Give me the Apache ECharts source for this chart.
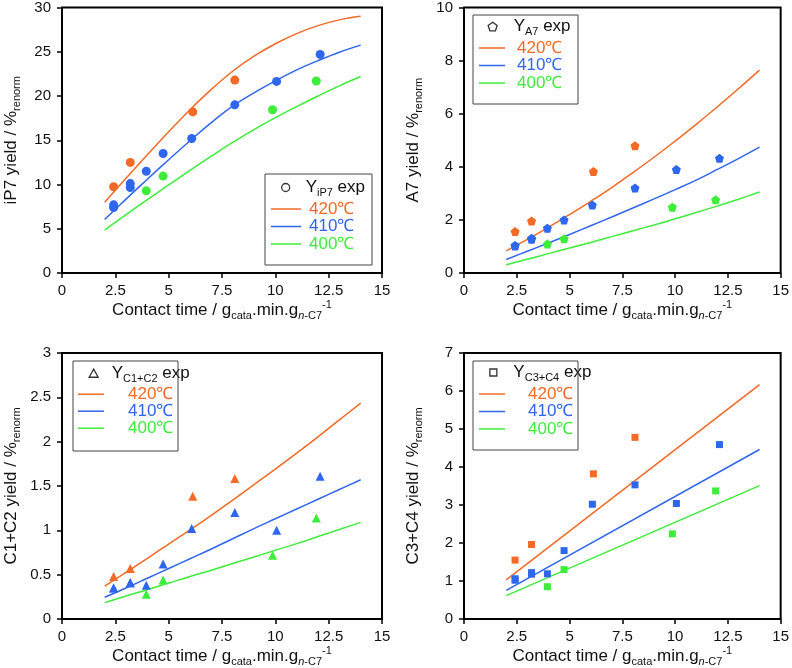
<!DOCTYPE html>
<html>
<head>
<meta charset="utf-8">
<script src="https://cdn.jsdelivr.net/npm/echarts@6/dist/echarts.min.js"></script>
<style>html,body{margin:0;padding:0;background:#fff;}#c{width:792px;height:668px;}</style>
</head>
<body>
<div id="c"></div>
<script>
// ---------- data ----------
const lineX = [2, 3, 4, 5, 6, 7, 8, 9, 10, 11, 12, 13, 14];
const lineXStraight = [2, 14];

// iP7 yield model curves
const iP7_420 = [8.0, 10.7, 13.35, 15.95, 18.45, 20.75, 22.8, 24.5, 25.9, 27.05, 27.95, 28.6, 29.0];
const iP7_410 = [6.05, 8.35, 10.6, 12.8, 14.95, 17.0, 18.85, 20.35, 21.7, 22.95, 24.0, 24.95, 25.75];
const iP7_400 = [4.85, 6.6, 8.3, 9.95, 11.6, 13.2, 14.75, 16.2, 17.55, 18.8, 20.0, 21.15, 22.2];
// A7 yield model curves
const A7_420 = [0.83, 1.27, 1.72, 2.2, 2.7, 3.22, 3.78, 4.36, 4.97, 5.6, 6.26, 6.94, 7.64];
const A7_410 = [0.51, 0.82, 1.13, 1.45, 1.78, 2.11, 2.45, 2.79, 3.14, 3.5, 3.9, 4.31, 4.74];
const A7_400 = [0.31, 0.52, 0.73, 0.94, 1.15, 1.37, 1.59, 1.81, 2.04, 2.28, 2.52, 2.78, 3.05];
// C1+C2 yield model curves
const C12_420 = [0.37, 0.527, 0.685, 0.845, 1.005, 1.17, 1.34, 1.515, 1.69, 1.87, 2.055, 2.245, 2.435];
const C12_410 = [0.245, 0.35, 0.46, 0.57, 0.68, 0.79, 0.905, 1.02, 1.13, 1.24, 1.35, 1.46, 1.57];
const C12_400 = [0.185, 0.26, 0.33, 0.405, 0.48, 0.55, 0.625, 0.70, 0.775, 0.85, 0.93, 1.01, 1.09];
// C3+C4 yield model lines (straight)
const C34_420 = [1.03, 6.17];
const C34_410 = [0.755, 4.46];
const C34_400 = [0.615, 3.51];

// experimental contact times
const expX_420 = [2.42, 3.2, 6.13, 8.1];
const expX_410 = [2.42, 2.42, 3.2, 3.2, 3.95, 4.74, 6.08, 8.1, 10.06, 12.1];
const expX_400 = [3.95, 4.74, 9.87, 11.92];

// experimental yields
const iP7exp_420 = [9.75, 12.5, 18.2, 21.8];
const iP7exp_410 = [7.4, 7.7, 9.65, 10.1, 11.5, 13.5, 15.2, 19.0, 21.65, 24.7];
const iP7exp_400 = [9.28, 10.95, 18.45, 21.7];

const A7exp_420 = [1.56, 1.96, 3.82, 4.79];
const A7exp_410 = [1.02, 1.04, 1.27, 1.31, 1.69, 2.0, 2.56, 3.2, 3.9, 4.32];
const A7exp_400 = [1.09, 1.29, 2.48, 2.76];

const C12exp_420 = [0.48, 0.57, 1.385, 1.585];
const C12exp_410 = [0.35, 0.35, 0.41, 0.41, 0.38, 0.62, 1.02, 1.2, 1.0, 1.61];
const C12exp_400 = [0.28, 0.44, 0.72, 1.14];

const C34exp_420 = [1.55, 1.96, 3.82, 4.78];
const C34exp_410 = [1.02, 1.06, 1.18, 1.22, 1.19, 1.8, 3.02, 3.53, 3.04, 4.59];
const C34exp_400 = [0.85, 1.3, 2.24, 3.37];

const xTicks = ['0', '2.5', '5', '7.5', '10', '12.5', '15'];
const tempLabels = ['420℃', '410℃', '400℃'];

// ---------- styling ----------
const C_OR = '#f26a26', C_BL = '#2f66ee', C_GR = '#3ded3a';
const FONT = '"Liberation Sans", Arial, Helvetica, sans-serif';
const pentagon = 'path://M0,-1 L0.951,-0.309 L0.588,0.809 L-0.588,0.809 L-0.951,-0.309 Z';
const triPath = 'path://M0,-1 L0.95,0.7 L-0.95,0.7 Z';
const sqPath = 'path://M-1,-1 L1,-1 L1,1 L-1,1 Z';
const circPath = 'circle';

const zip = (xs, ys) => xs.map((x, i) => [x, ys[i]]);

const panels = [
  { left: 62, top: 7, width: 320, height: 266, ymax: 30, yint: 5,
    yname: '{n|iP7 yield / %}{s|renorm}', sym: 'circle', symSize: 9,
    curves: [iP7_420, iP7_410, iP7_400], cx: lineX, smooth: true,
    exps: [iP7exp_420, iP7exp_410, iP7exp_400],
    expLabel: '{n|Y}{s|iP7}{n| exp}', legIcon: circPath, legIconH: 8, iconC: 285, yStart: 305,
    box: [265, 174, 107, 91], legLeft: 271, iconW: 30, rows: [190, 210.5, 231, 251.5], tGap: 3 },
  { left: 464, top: 7, width: 319, height: 266, ymax: 10, yint: 2,
    yname: '{n|A7 yield / %}{s|renorm}', sym: pentagon, symSize: 9,
    curves: [A7_420, A7_410, A7_400], cx: lineX, smooth: true,
    exps: [A7exp_420, A7exp_410, A7exp_400],
    expLabel: '{n|Y}{s|A7}{n| exp}', legIcon: pentagon, legIconH: 9, iconC: 492, yStart: 513,
    box: [473, 15, 105, 89], legLeft: 479, iconW: 26, rows: [29, 49.5, 70, 90.5], tGap: 7 },
  { left: 62, top: 353, width: 320, height: 266, ymax: 3, yint: 0.5,
    yname: '{n|C1+C2 yield / %}{s|renorm}', sym: 'triangle', symSize: 9,
    curves: [C12_420, C12_410, C12_400], cx: lineX, smooth: true,
    exps: [C12exp_420, C12exp_410, C12exp_400],
    expLabel: '{n|Y}{s|C1+C2}{n| exp}', legIcon: triPath, legIconH: 9, iconC: 93, yStart: 111,
    box: [73, 361, 105, 90], legLeft: 78, iconW: 26, rows: [375.7, 395.7, 415.7, 435.7], tGap: 19 },
  { left: 464, top: 353, width: 319, height: 266, ymax: 7, yint: 1,
    yname: '{n|C3+C4 yield / %}{s|renorm}', sym: 'rect', symSize: 7,
    curves: [C34_420, C34_410, C34_400], cx: lineXStraight, smooth: false,
    exps: [C34exp_420, C34exp_410, C34exp_400],
    expLabel: '{n|Y}{s|C3+C4}{n| exp}', legIcon: sqPath, legIconH: 7, iconC: 492.7, yStart: 512.7,
    box: [473, 361, 105, 89], legLeft: 479, iconW: 26, rows: [375, 395.5, 416, 436.5], tGap: 18 }
];

const nameRich = {
  n: { fontSize: 17, lineHeight: 22, fontFamily: FONT, color: '#111' },
  s: { fontSize: 11, lineHeight: 10, verticalAlign: 'bottom', fontFamily: FONT, color: '#111' },
  si: { fontSize: 11, lineHeight: 10, verticalAlign: 'bottom', fontStyle: 'italic', fontFamily: FONT, color: '#111' },
  p: { fontSize: 11, lineHeight: 10, verticalAlign: 'top', fontFamily: FONT, color: '#111' }
};
const xName = '{n|Contact time / g}{s|cata}{n|.min.g}{si|n}{s|-C7}{p|-1}';

const grid = [], xAxis = [], yAxis = [], series = [], legend = [], graphic = [];
const colors = [C_OR, C_BL, C_GR];

panels.forEach((p, i) => {
  grid.push({ left: p.left, top: p.top, width: p.width, height: p.height,
    show: true, borderColor: '#000', borderWidth: 2, backgroundColor: 'transparent' });
  xAxis.push({ type: 'value', gridIndex: i, min: 0, max: 15, interval: 2.5,
    axisLine: { show: false }, splitLine: { show: false },
    axisTick: { show: true, inside: false, length: 5, lineStyle: { color: '#000', width: 1.5 } },
    axisLabel: { fontSize: 15, color: '#111', fontFamily: FONT, margin: 10,
      formatter: v => xTicks[Math.round(v / 2.5)] },
    name: xName, nameLocation: 'middle', nameGap: 26,
    nameTextStyle: { rich: nameRich } });
  yAxis.push({ type: 'value', gridIndex: i, min: 0, max: p.ymax, interval: p.yint,
    axisLine: { show: false }, splitLine: { show: false },
    axisTick: { show: true, inside: false, length: 5, lineStyle: { color: '#000', width: 1.5 } },
    axisLabel: { fontSize: 15, color: '#111', fontFamily: FONT, margin: 11 },
    name: p.yname, nameLocation: 'middle', nameGap: 40, nameRotate: 90,
    nameTextStyle: { rich: nameRich } });

  const lineNames = ['p' + i + '_420', 'p' + i + '_410', 'p' + i + '_400'];
  p.curves.forEach((ys, k) => {
    series.push({ type: 'line', name: lineNames[k], xAxisIndex: i, yAxisIndex: i,
      data: zip(p.cx, ys), smooth: p.smooth ? 0.4 : false, showSymbol: false, symbol: 'none',
      lineStyle: { color: colors[k], width: 1.5 }, itemStyle: { color: colors[k] }, z: 2 });
  });
  const expXs = [expX_420, expX_410, expX_400];
  p.exps.forEach((ys, k) => {
    series.push({ type: 'scatter', name: 'p' + i + '_pts' + k, xAxisIndex: i, yAxisIndex: i,
      data: zip(expXs[k], ys), symbol: p.sym, symbolSize: p.symSize,
      itemStyle: { color: colors[k], opacity: 1 }, z: 3 });
  });
  // dummy series for the "exp" legend entry
  series.push({ type: 'scatter', name: 'p' + i + '_exp', xAxisIndex: i, yAxisIndex: i,
    data: [], symbol: p.legIcon, itemStyle: { color: '#fff', borderColor: '#000', borderWidth: 1.3 } });

  const h = p.legIconH;
  const expLeft = p.iconC - h / 2;
  const expGap = Math.max(0, p.yStart - (expLeft + h + 5));
  legend.push({ orient: 'vertical', left: expLeft, top: p.rows[0] - 11, padding: 0,
    itemWidth: h, itemHeight: h, itemGap: 0, selectedMode: false,
    data: [{ name: 'p' + i + '_exp', icon: p.legIcon,
      itemStyle: { color: '#fff', borderColor: '#000', borderWidth: 1.3 } }],
    formatter: () => '{g|}' + p.expLabel,
    textStyle: { color: '#111', rich: {
      g: { width: expGap, lineHeight: 22 },
      n: { fontSize: 17, lineHeight: 22, fontFamily: FONT, color: '#111' },
      s: { fontSize: 11, lineHeight: 10, verticalAlign: 'bottom', fontFamily: FONT, color: '#111' } } } });

  legend.push({ orient: 'vertical', left: p.legLeft, top: p.rows[1] - 10, padding: 0,
    itemWidth: p.iconW, itemHeight: 1.5, itemGap: (p.rows[3] - p.rows[1]) / 2 - 20, selectedMode: false,
    data: lineNames.map((nm, k) => ({ name: nm, icon: 'rect', itemStyle: { color: colors[k] },
      textStyle: { color: colors[k] } })),
    formatter: nm => '{g|}{t|' + tempLabels[lineNames.indexOf(nm)] + '}',
    textStyle: { rich: {
      g: { width: p.tGap, lineHeight: 20 },
      t: { fontSize: 17, lineHeight: 20, fontFamily: FONT } } } });

  graphic.push({ type: 'rect', shape: { x: p.box[0], y: p.box[1], width: p.box[2], height: p.box[3] },
    style: { fill: 'none', stroke: '#444', lineWidth: 1 }, z: 100, silent: true });
});

const chart = echarts.init(document.getElementById('c'), null, { renderer: 'canvas' });
chart.setOption({
  backgroundColor: '#fff',
  animation: false,
  textStyle: { fontFamily: FONT },
  grid, xAxis, yAxis, series, legend, graphic
});
</script>
</body>
</html>
